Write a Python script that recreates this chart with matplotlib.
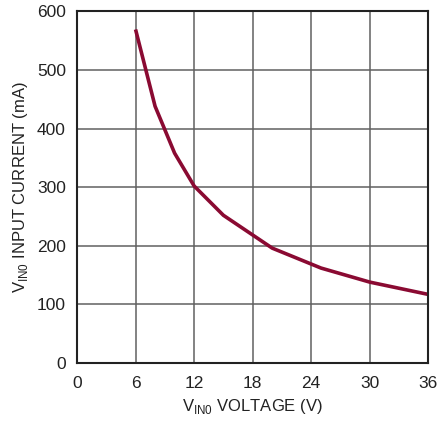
import matplotlib
matplotlib.use("Agg")
import matplotlib.pyplot as plt
from matplotlib import font_manager

# curve
vin = [6, 8, 10, 12, 15, 20, 25, 30, 36]
current_ma = [569, 438, 358, 302, 252, 196, 162, 138, 117]

x_ticks = [0, 6, 12, 18, 24, 30, 36]
y_ticks = [0, 100, 200, 300, 400, 500, 600]

names = {f.name for f in font_manager.fontManager.ttflist}
family = "Liberation Sans Narrow" if "Liberation Sans Narrow" in names else "Liberation Sans"
plt.rcParams['font.family'] = [family, 'DejaVu Sans']

fig = plt.figure(figsize=(4.38, 4.23), dpi=100)
ax = fig.add_axes([0.1758, 0.1418, 0.8022, 0.8315])

ax.plot(vin, current_ma, color='#8a0a32', lw=2.6, solid_capstyle='butt', zorder=3)

ax.set_xlim(0, 36)
ax.set_ylim(0, 600)
ax.set_xticks(x_ticks)
ax.set_yticks(y_ticks)
ax.tick_params(length=0, labelsize=12.5, colors='#222222')
ax.tick_params(axis='x', pad=9)
ax.tick_params(axis='y', pad=8)
ax.grid(True, color='#606060', lw=1.1)
for s in ax.spines.values():
    s.set_color('#222222')
    s.set_linewidth(1.5)
    s.set_zorder(4)

ax.set_xlabel(r'V$_{\mathregular{IN0}}$ VOLTAGE (V)', fontsize=12, color='#222222', labelpad=5)
ax.set_ylabel(r'V$_{\mathregular{IN0}}$ INPUT CURRENT (mA)', fontsize=12, color='#222222', labelpad=5)

fig.savefig('out.png', dpi=100)
